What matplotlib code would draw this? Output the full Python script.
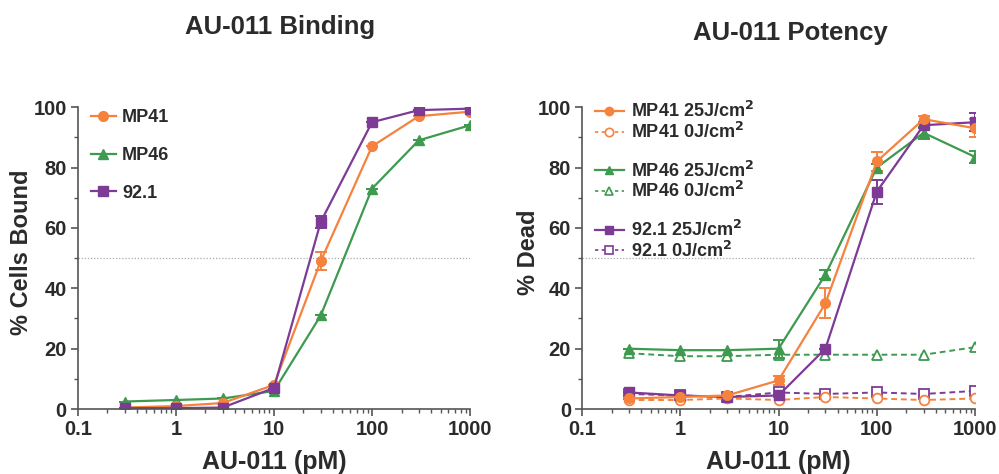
import matplotlib
matplotlib.use("Agg")
import matplotlib.pyplot as plt
from matplotlib.lines import Line2D
import numpy as np

plt.rcParams['font.family'] = ['Liberation Sans', 'DejaVu Sans']
plt.rcParams['font.weight'] = 'bold'

conc = [0.3, 1, 3, 10, 30, 100, 300, 1000]

# Binding
bind_mp41 = [0.5, 1, 2, 8, 49, 87, 97, 98.5]
bind_mp41_err = [0, 0, 0, 0, 3, 0, 0, 0]
bind_mp46 = [2.5, 3, 3.5, 6, 31, 73, 89, 94]
bind_mp46_err = [0, 0, 0, 0, 0, 0, 0, 0]
bind_921 = [0.3, 0.3, 0.5, 7, 62, 95, 99, 99.5]
bind_921_err = [0, 0, 0, 0, 2, 0, 0, 0]

# Potency
pot_mp41_25 = [3.5, 4, 4.5, 9.5, 35, 82, 96, 93]
pot_mp41_25_err = [0, 0, 0, 1.5, 5, 3, 1, 3]
pot_mp41_0 = [3, 3, 3.5, 3, 4, 3.5, 3, 3.5]
pot_mp46_25 = [20, 19.5, 19.5, 20, 44.5, 80, 91.5, 83.5]
pot_mp46_25_err = [0, 0, 0, 3, 1.5, 1, 2, 2]
pot_mp46_0 = [18.5, 17.5, 17.5, 18, 18, 18, 18, 20.5]
pot_921_25 = [5.5, 4.5, 4, 4.5, 20, 72, 94, 95]
pot_921_25_err = [0, 0, 0, 0, 0, 4, 1, 3]
pot_921_0 = [5, 4.5, 4, 5.5, 5, 5.5, 5, 6]

ORANGE = '#F5823D'
GREEN = '#3D9A4F'
PURPLE = '#7D3B96'
AXC = '#555555'
TXT = '#2b2b2b'

fig = plt.figure(figsize=(9.99, 4.74), dpi=100)
axL = fig.add_axes([0.078, 0.137, 0.3925, 0.637])
axR = fig.add_axes([0.5826, 0.137, 0.3934, 0.637])

def style(ax, ylabel, ylx):
    ax.set_xscale('log')
    ax.set_xlim(0.1, 1000)
    ax.set_ylim(0, 100)
    ax.set_yticks([0, 20, 40, 60, 80, 100])
    ax.set_yticks([10, 30, 50, 70, 90], minor=True)
    ax.set_xticks([0.1, 1, 10, 100, 1000])
    ax.set_xticklabels(['0.1', '1', '10', '100', '1000'])
    for s in ['top', 'right']:
        ax.spines[s].set_visible(False)
    for s in ['left', 'bottom']:
        ax.spines[s].set_color(AXC)
        ax.spines[s].set_linewidth(1.2)
    ax.tick_params(which='major', length=5, width=1.2, color=AXC, labelsize=14.5, labelcolor=TXT, pad=3)
    ax.tick_params(which='minor', length=3, width=1, color=AXC)
    for lab in ax.get_xticklabels() + ax.get_yticklabels():
        lab.set_fontweight('bold')
    ax.set_xlabel('AU-011 (pM)', fontsize=18, fontweight='bold', color=TXT)
    ax.xaxis.set_label_coords(0.5, -0.175)
    ax.xaxis.label.set_va('center')
    ax.set_ylabel(ylabel, fontsize=17, fontweight='bold', color=TXT)
    ax.yaxis.set_label_coords(ylx, 0.52)
    ax.yaxis.label.set_va('center')
    ax.axhline(50, color='#aaaaaa', lw=0.9, ls=(0, (1, 1.5)), zorder=0)

def series(ax, y, err, color, marker, filled=True, dashed=False):
    kw = dict(color=color, marker=marker, markersize=7, lw=1.6,
              elinewidth=1.4, capsize=4, capthick=1.4)
    if not filled:
        kw['markerfacecolor'] = 'white'
        kw['markeredgewidth'] = 1.3
    if dashed:
        kw['ls'] = (0, (3, 2))
        kw['lw'] = 1.4
    if err is None:
        ax.plot(conc, y, **{k: v for k, v in kw.items() if k not in ('elinewidth', 'capsize', 'capthick')})
    else:
        ax.errorbar(conc, y, yerr=err, **kw)

style(axL, '% Cells Bound', -0.143)
series(axL, bind_mp46, bind_mp46_err, GREEN, '^')
series(axL, bind_mp41, bind_mp41_err, ORANGE, 'o')
series(axL, bind_921, bind_921_err, PURPLE, 's')

hL = [Line2D([], [], color=ORANGE, marker='o', lw=1.6, markersize=7),
      Line2D([], [], color=GREEN, marker='^', lw=1.6, markersize=7),
      Line2D([], [], color=PURPLE, marker='s', lw=1.6, markersize=7)]
legL = axL.legend(hL, ['MP41', 'MP46', '92.1'], loc='upper left', bbox_to_anchor=(0.0, 1.035),
                  frameon=False, fontsize=13, labelspacing=1.15, handlelength=1.4,
                  handletextpad=0.35, borderaxespad=0.3)
for t in legL.get_texts():
    t.set_color(TXT); t.set_fontweight('bold')

style(axR, '% Dead', -0.137)
series(axR, pot_mp46_0, None, GREEN, '^', filled=False, dashed=True)
series(axR, pot_921_0, None, PURPLE, 's', filled=False, dashed=True)
series(axR, pot_mp41_0, None, ORANGE, 'o', filled=False, dashed=True)
series(axR, pot_mp46_25, pot_mp46_25_err, GREEN, '^')
series(axR, pot_921_25, pot_921_25_err, PURPLE, 's')
series(axR, pot_mp41_25, pot_mp41_25_err, ORANGE, 'o')

blank = Line2D([], [], color='none')
def h(c, m, filled=True):
    if filled:
        return Line2D([], [], color=c, marker=m, lw=1.6, markersize=6)
    return Line2D([], [], color=c, marker=m, lw=1.2, ls=(0, (2, 2)), markersize=6,
                  markerfacecolor='white', markeredgewidth=1.2)
hR = [h(ORANGE, 'o'), h(ORANGE, 'o', False), blank,
      h(GREEN, '^'), h(GREEN, '^', False), blank,
      h(PURPLE, 's'), h(PURPLE, 's', False)]
labR = ['MP41 25J/cm$^\\mathbf{2}$', 'MP41 0J/cm$^\\mathbf{2}$', '',
        'MP46 25J/cm$^\\mathbf{2}$', 'MP46 0J/cm$^\\mathbf{2}$', '',
        '92.1 25J/cm$^\\mathbf{2}$', '92.1 0J/cm$^\\mathbf{2}$']
legR = axR.legend(hR, labR, loc='upper left', bbox_to_anchor=(0.0, 1.062),
                  frameon=False, fontsize=13, labelspacing=0.04, handlelength=1.6,
                  handletextpad=0.4, borderaxespad=0.3)
for t in legR.get_texts():
    t.set_color(TXT); t.set_fontweight('bold')

fig.text(0.28, 0.943, 'AU-011 Binding', ha='center', va='center', fontsize=18.5, fontweight='bold', color=TXT)
fig.text(0.791, 0.93, 'AU-011 Potency', ha='center', va='center', fontsize=18.5, fontweight='bold', color=TXT)

fig.savefig('out.png', dpi=100, facecolor='white')
